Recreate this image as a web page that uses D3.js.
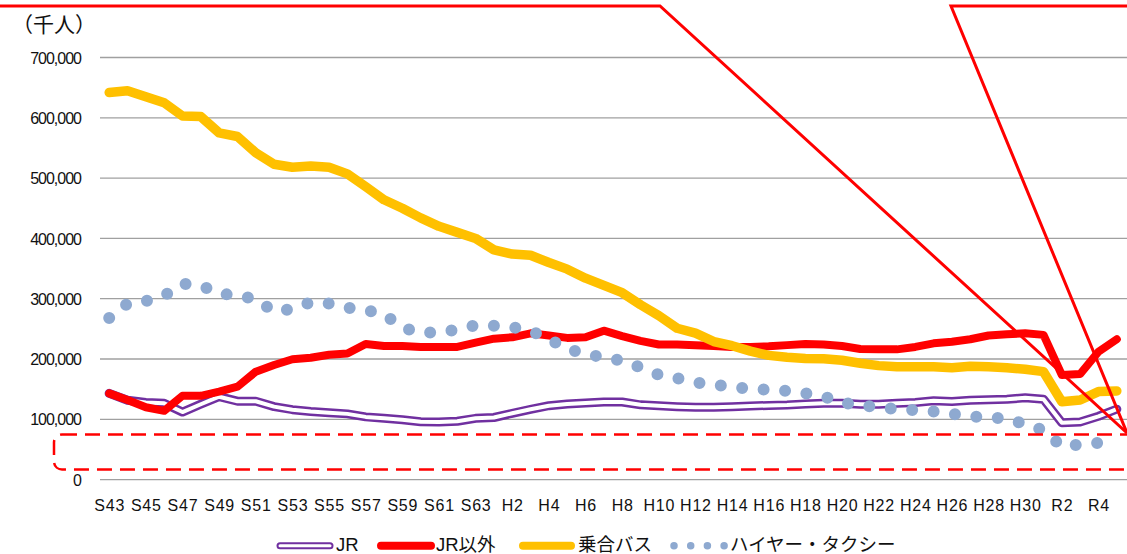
<!DOCTYPE html>
<html><head><meta charset="utf-8">
<script src="https://cdn.jsdelivr.net/npm/d3@7/dist/d3.min.js"></script>
<style>
html,body{margin:0;padding:0;background:#fff;}
svg{display:block;}
</style></head>
<body><svg id="c" width="1127" height="554"></svg>
<script>
const categories = ["S43","S44","S45","S46","S47","S48","S49","S50","S51","S52","S53","S54","S55","S56","S57","S58","S59","S60","S61","S62","S63",
"H1","H2","H3","H4","H5","H6","H7","H8","H9","H10","H11","H12","H13","H14","H15","H16","H17","H18","H19","H20","H21","H22","H23","H24","H25","H26","H27","H28","H29","H30",
"R1","R2","R3","R4","R5"];
const tickLabels = ["S43","S45","S47","S49","S51","S53","S55","S57","S59","S61","S63","H2","H4","H6","H8","H10","H12","H14","H16","H18","H20","H22","H24","H26","H28","H30","R2","R4"];
const yTicks = [0,100000,200000,300000,400000,500000,600000,700000];
const seriesNames = ["JR","JR以外","乗合バス","ハイヤー・タクシー"];

const jr = [143000,131500,128000,126500,112000,125000,137500,130000,130000,121000,116000,113000,111000,109000,104000,101600,99400,96000,95500,96700,
101600,103000,110000,116600,122600,125400,127000,128700,128700,124000,122400,121000,120000,120000,
121000,122000,123000,
123700,125400,126500,126500,124800,124800,126500,128000,130600,129500,131700,132500,133300,135600,133300,94400,95500,105000,116800];
const jrOther = [143000,132000,120000,114000,139000,139000,146000,154000,179000,190000,199500,202000,207000,209000,225000,221500,
221500,220000,220000,220000,227000,233700,236000,242600,239000,235000,236000,247000,238000,230000,224000,224000,223000,221500,
220000,220000,221000,
223000,225000,224000,221500,216600,216000,216000,220000,226000,228700,232700,239000,241000,242600,240000,173500,175000,212000,232700];
const bus = [642000,645000,635000,625000,603000,602000,575000,569000,542000,523000,518000,520000,518000,507000,486000,464000,
450000,434000,420000,410000,400000,381000,374000,372000,360000,349000,334000,322000,310000,290000,272000,251000,243000,229000,
222000,213000,206000,
203000,201000,200500,198000,193000,189000,187000,187000,187000,185500,188000,187000,185500,183000,179000,129000,132000,146000,147000];
const taxi = [268000,292000,296000,305000,325000,322000,308000,306000,299000,279000,283000,294000,292000,285000,281000,274000,
252000,244000,244000,249000,256000,255000,253000,247000,233000,217000,208000,203000,197000,186000,174000,168000,161000,158000,
153000,151000,149000,
147000,143000,138000,127500,123000,120000,117000,115000,113000,109000,105000,103000,101000,92000,82000,55000,58000,61000,66000];

const svg = d3.select("#c");
const x = d3.scalePoint().domain(categories).range([109.2, 1116.8]);
const y = d3.scaleLinear().domain([0, 700000]).range([479.6, 57.5]);

// gridlines + y labels
const yAxis = d3.axisLeft(y).tickValues(yTicks).tickFormat(d3.format(",")).tickSize(0).tickPadding(0);
const gy = svg.append("g").attr("transform","translate(81,0)").call(yAxis);
gy.select(".domain").remove();
gy.selectAll("text").attr("font-family","Liberation Sans, Arial, sans-serif").attr("font-size","16px")
  .attr("letter-spacing","-1px").attr("fill","#111").attr("dy","0.35em");
svg.append("g").selectAll("line").data(yTicks).join("line")
  .attr("x1",100).attr("x2",1127).attr("y1",d=>y(d)).attr("y2",d=>y(d))
  .attr("stroke","#a0a0a0").attr("stroke-width",1.3);

// x labels
const xAxis = d3.axisBottom(x).tickValues(tickLabels).tickSize(0).tickPadding(0);
const gx = svg.append("g").attr("transform","translate(0,499)").call(xAxis);
gx.select(".domain").remove();
gx.selectAll("text").attr("font-family","Liberation Sans, Arial, sans-serif").attr("font-size","16px")
  .attr("letter-spacing","0.8px").attr("fill","#111").attr("dy","0.75em");

// unit
svg.append("text").attr("x",12).attr("y",32).text("（千人）")
  .attr("font-family","Noto Sans CJK JP").attr("font-size","21px").attr("fill","#111");

const line = d3.line().x((d,i)=>x(categories[i])).y(d=>y(d)).curve(d3.curveLinear);
const plot = svg.append("g").attr("fill","none").attr("stroke-linejoin","round").attr("stroke-linecap","round");

// JR double line
plot.append("path").attr("d",line(jr)).attr("stroke","#7030A0").attr("stroke-width",9);
plot.append("path").attr("d",line(jr)).attr("stroke","#ffffff").attr("stroke-width",4);
// JR以外
plot.append("path").attr("d",line(jrOther)).attr("stroke","#FF0000").attr("stroke-width",8);
// 乗合バス
plot.append("path").attr("d",line(bus)).attr("stroke","#FFC000").attr("stroke-width",9.5);
// taxi dotted
plot.append("path").attr("d",line(taxi)).attr("stroke","#8EA9D0").attr("stroke-width",12)
  .attr("stroke-dasharray","0 21.5");

// legend
const lg = svg.append("g").attr("fill","none").attr("stroke-linecap","round");
const ly = 545.7;
lg.append("line").attr("x1",280).attr("x2",330).attr("y1",ly).attr("y2",ly).attr("stroke","#7030A0").attr("stroke-width",7);
lg.append("line").attr("x1",280).attr("x2",330).attr("y1",ly).attr("y2",ly).attr("stroke","#fff").attr("stroke-width",3);
lg.append("line").attr("x1",381).attr("x2",431).attr("y1",ly).attr("y2",ly).attr("stroke","#FF0000").attr("stroke-width",8);
lg.append("line").attr("x1",523).attr("x2",571).attr("y1",ly).attr("y2",ly).attr("stroke","#FFC000").attr("stroke-width",8);
lg.append("line").attr("x1",674).attr("x2",725).attr("y1",ly).attr("y2",ly).attr("stroke","#8EA9D0").attr("stroke-width",7.5)
  .attr("stroke-dasharray","0 16.7");
const lx = [336, 436, 578, 730];
svg.append("g").selectAll("text").data(seriesNames).join("text")
  .attr("x",(d,i)=>lx[i]).attr("y",551).text(d=>d)
  .attr("font-family","Liberation Sans, Noto Sans CJK JP, sans-serif").attr("font-size","18.5px").attr("fill","#111");

// red annotation overlay
const ann = svg.append("g").attr("fill","none").attr("stroke","#FF0000");
ann.append("polyline").attr("points","0,6 660,6 1127,433").attr("stroke-width",3).attr("stroke-linejoin","miter");
ann.append("polyline").attr("points","1127,6 951,6 1127,433").attr("stroke-width",3).attr("stroke-linejoin","miter");
ann.append("rect").attr("x",54).attr("y",434.5).attr("width",1100).attr("height",35).attr("rx",8)
  .attr("stroke-width",2.5).attr("stroke-dasharray","15 8");
</script></body></html>
